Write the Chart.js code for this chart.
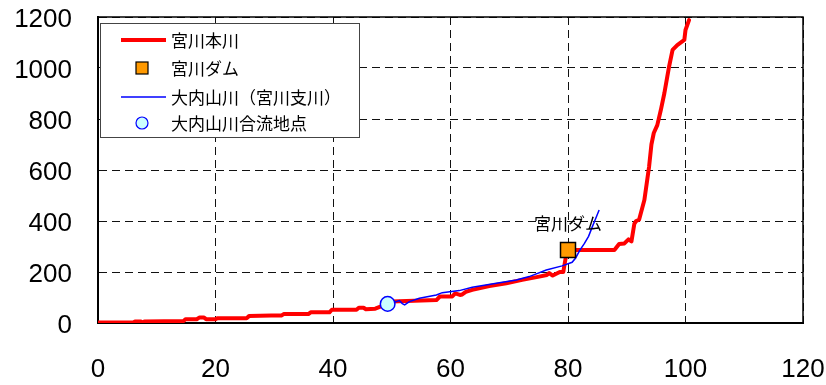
<!DOCTYPE html>
<html>
<head>
<meta charset="utf-8">
<script src="https://cdn.jsdelivr.net/npm/chart.js@4/dist/chart.umd.min.js"></script>
<style>
  html, body { margin: 0; padding: 0; background: #fff; }
  #wrap { width: 826px; height: 385px; }
</style>
</head>
<body>
<div id="wrap"><canvas id="c" width="826" height="385"></canvas></div>
<script>
// 河口からの距離 (km) と標高 (m)
const mainRiver = [
  [0,2],[6,2],[6.3,6],[7.3,6],[7.6,2],[7.9,6],[14.6,8],[14.9,15],[16.8,15],[17.3,22],
  [18,22],[18.4,15],[20,15],[20.3,19],[25.3,19],[25.7,27],[29.5,29],[31.2,29],[31.6,35],
  [35.8,35],[36.2,42],[39.4,42],[39.8,52],[44,52],[44.4,60],[45.2,60],[45.6,54],[47.2,56],
  [48.5,68],[49.3,75],[50,84],[57.6,90],[58.2,104],[60.3,104],[60.8,116],[61.6,110],[62,112],
  [62.6,122],[63.7,130],[66.6,145],[69.5,156],[72.2,169],[75.1,182],[76.4,188],[76.8,196],
  [77.4,186],[78.6,200],[79.2,200],[79.6,255],[80,286],[87.9,286],[88.7,310],[89.6,312],
  [90.3,328],[90.8,320],[91.3,390],[91.6,400],[92.1,405],[93,482],[93.8,613],[94.2,700],
  [94.6,745],[95.2,776],[95.8,835],[96.4,901],[96.9,966],[97.2,1005],[97.8,1071],[98.6,1090],
  [99.8,1110],[100,1149],[100.6,1188]
];
const damPoint = [[80, 286]];
const tributary = [
  [49.3,75],[50.5,82],[51.3,88],[51.8,76],[52.2,71],[53,84],[54.7,97],[57.6,110],[58.6,119],
  [61.5,127],[63.7,140],[67.8,156],[71.2,169],[73.4,182],[76.3,208],[79,224],[80.7,238],
  [81.3,255],[82,285],[82.8,312],[83.5,340],[84.1,375],[84.8,415],[85.3,443]
];
const confluencePoint = [[49.3, 75]];

const seriesNames = ['宮川本川', '宮川ダム', '大内山川（宮川支川）', '大内山川合流地点'];
const damLabel = '宮川ダム';
const xTicks = [0, 20, 40, 60, 80, 100, 120];
const yTicks = [0, 200, 400, 600, 800, 1000, 1200];

const toXY = arr => arr.map(([x, y]) => ({x, y}));
const JP_FONT = '"Noto Sans CJK JP", "Noto Sans", sans-serif';

// 目盛ラベルのはみ出し分の余白を無くし、プロット領域を固定する
const noOverhang = s => {
  s.paddingLeft = 0; s.paddingRight = 0; s.paddingTop = 0; s.paddingBottom = 0;
};

// 枠線
const framePlugin = {
  id: 'frame',
  beforeDatasetsDraw(chart) {
    const {ctx, chartArea: a} = chart;
    ctx.save();
    ctx.strokeStyle = '#000';
    ctx.lineWidth = 1.5;
    ctx.strokeRect(a.left, a.top, a.right - a.left, a.bottom - a.top);
    ctx.restore();
  }
};

// 凡例とダム名ラベル
const overlayPlugin = {
  id: 'overlay',
  afterDatasetsDraw(chart) {
    const {ctx, chartArea: a} = chart;
    const ds = chart.data.datasets;

    // ダム名
    const dm = chart.getDatasetMeta(1).data[0];
    ctx.save();
    ctx.font = '17px ' + JP_FONT;
    ctx.fillStyle = '#000';
    ctx.textAlign = 'center';
    ctx.textBaseline = 'middle';
    ctx.fillText(damLabel, dm.x, dm.y - 27);
    ctx.restore();

    // 凡例
    const bx = a.left + 2, by = a.top + 6, bw = 259, bh = 114;
    ctx.save();
    ctx.fillStyle = '#fff';
    ctx.fillRect(bx, by, bw, bh);
    ctx.strokeStyle = '#444';
    ctx.lineWidth = 1;
    ctx.strokeRect(bx + 0.5, by + 0.5, bw, bh);
    const rowY = [17, 45, 74, 100];
    ds.forEach((d, i) => {
      const cy = by + rowY[i];
      if (d.showLine) {
        ctx.beginPath();
        ctx.strokeStyle = d.borderColor;
        ctx.lineWidth = d.borderWidth;
        ctx.moveTo(bx + 21, cy);
        ctx.lineTo(bx + 66, cy);
        ctx.stroke();
      } else if (d.pointStyle === 'rect') {
        ctx.fillStyle = d.backgroundColor;
        ctx.strokeStyle = d.borderColor;
        ctx.lineWidth = 1.2;
        ctx.fillRect(bx + 36, cy - 6, 12, 12);
        ctx.strokeRect(bx + 36, cy - 6, 12, 12);
      } else {
        ctx.beginPath();
        ctx.fillStyle = d.backgroundColor;
        ctx.strokeStyle = d.borderColor;
        ctx.lineWidth = 1.2;
        ctx.arc(bx + 42, cy, 6, 0, Math.PI * 2);
        ctx.fill();
        ctx.stroke();
      }
      ctx.font = '17px ' + JP_FONT;
      ctx.fillStyle = '#000';
      ctx.textAlign = 'left';
      ctx.textBaseline = 'middle';
      ctx.fillText(d.label, bx + 71, cy + 1);
    });
    ctx.restore();
  }
};

const tickFont = { family: '"Liberation Sans", Arial, sans-serif', size: 26 };

new Chart(document.getElementById('c'), {
  type: 'scatter',
  data: {
    datasets: [
      {
        label: seriesNames[0], data: toXY(mainRiver), showLine: true,
        borderColor: '#ff0000', backgroundColor: '#ff0000', borderWidth: 4,
        pointRadius: 0, borderJoinStyle: 'round', borderCapStyle: 'round', order: 3
      },
      {
        label: seriesNames[1], data: toXY(damPoint), showLine: false,
        pointStyle: 'rect', pointRadius: 10.6, backgroundColor: '#ff9900',
        borderColor: '#000', borderWidth: 1.5, order: 0
      },
      {
        label: seriesNames[2], data: toXY(tributary), showLine: true,
        borderColor: '#0000ff', backgroundColor: '#0000ff', borderWidth: 1.5,
        pointRadius: 0, order: 2
      },
      {
        label: seriesNames[3], data: toXY(confluencePoint), showLine: false,
        pointStyle: 'circle', pointRadius: 7.3, backgroundColor: '#ccffff',
        borderColor: '#0000ff', borderWidth: 1.5, order: 1
      }
    ]
  },
  options: {
    responsive: false,
    animation: false,
    devicePixelRatio: 1,
    layout: { padding: { top: 17, right: 23, left: 0, bottom: 0 } },
    plugins: { legend: { display: false }, tooltip: { enabled: false } },
    scales: {
      x: {
        type: 'linear', min: 0, max: 120,
        afterBuildTicks: s => { s.ticks = xTicks.map(v => ({value: v})); },
        afterFit: s => { s.height = 62; noOverhang(s); },
        grid: { color: '#111', lineWidth: 1, drawTicks: false },
        border: { display: true, color: '#000', width: 2, dash: [8, 5] },
        ticks: { color: '#000', padding: 31, maxRotation: 0, font: tickFont,
                 callback: v => String(v) }
      },
      y: {
        type: 'linear', min: 0, max: 1200,
        afterBuildTicks: s => { s.ticks = yTicks.map(v => ({value: v})); },
        afterFit: s => { s.width = 98; noOverhang(s); },
        grid: { color: '#111', lineWidth: 1, drawTicks: false },
        border: { display: true, color: '#000', width: 2, dash: [8, 5] },
        ticks: { color: '#000', padding: 26, labelOffset: 3, font: tickFont,
                 callback: v => String(v) }
      }
    }
  },
  plugins: [framePlugin, overlayPlugin]
});
</script>
</body>
</html>
